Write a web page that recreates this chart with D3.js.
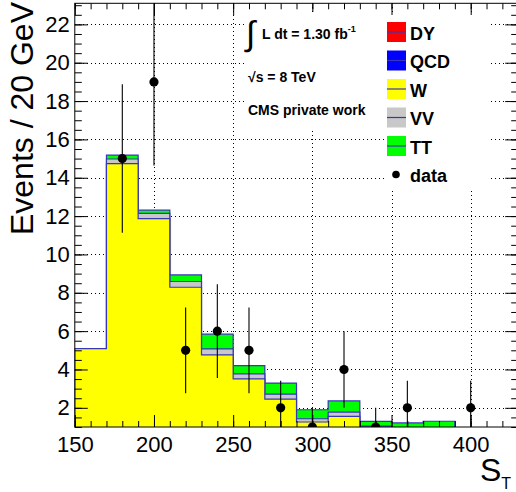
<!DOCTYPE html>
<html>
<head>
<meta charset="utf-8">
<script src="https://cdn.jsdelivr.net/npm/d3@7/dist/d3.min.js"></script>
<style>
  html, body { margin: 0; padding: 0; background: #fff; }
  svg { display: block; }
  text { font-family: "Liberation Sans", Arial, Helvetica, sans-serif; }
</style>
</head>
<body>
<svg id="chart" width="516" height="492"></svg>
<script>
// S_T distribution: stacked backgrounds in 20 GeV bins, plus observed data
const binEdges = [150, 170, 190, 210, 230, 250, 270, 290, 310, 330, 350, 370, 390];
const dyVals  = [0, 0, 0, 0, 0, 0, 0, 0, 0, 0, 0, 0];
const qcdVals = [0, 0, 0, 0, 0, 0, 0, 0, 0, 0, 0, 0];
const wVals   = [5.09, 14.74, 11.87, 8.29, 4.76, 3.51, 2.45, 1.26, 1.55, 0.95, 0.70, 0.60];
const vvVals  = [0.00, 0.24, 0.27, 0.30, 0.31, 0.26, 0.26, 0.17, 0.23, 0.10, 0.10, 0.05];
const ttVals  = [0.00, 0.20, 0.17, 0.34, 0.77, 0.43, 0.58, 0.47, 0.58, 0.24, 0.41, 0.65];

const dataX = [180, 200, 220, 240, 260, 280, 300, 320, 340, 360, 400];
const dataY = [15, 19, 5, 6, 5, 2, 1, 4, 1, 2, 2];

const processNames  = ["DY", "QCD", "W", "VV", "TT"];
const processColors = ["#ff0000", "#0000ff", "#ffff00", "#c8c8c8", "#00ff00"];

const xMajorTicks = [150, 200, 250, 300, 350, 400];
const yMajorTicks = [2, 4, 6, 8, 10, 12, 14, 16, 18, 20, 22];

const lineBlue = "#3636b8";
const svg = d3.select("#chart");

const frame = { left: 74.8, right: 518.2, top: 3.3, bottom: 427 };
const x = d3.scaleLinear().domain([150, 430]).range([frame.left, frame.right]);
const y = d3.scaleLinear().domain([1, 23.1]).range([frame.bottom, frame.top]);

svg.append("defs").append("clipPath").attr("id", "plotClip")
  .append("rect")
  .attr("x", frame.left).attr("y", frame.top)
  .attr("width", frame.right - frame.left).attr("height", frame.bottom - frame.top);

// Grid (dotted, behind the histograms)
const grid = svg.append("g").attr("stroke", "#000").attr("stroke-width", 1)
  .attr("stroke-dasharray", "1,3").attr("shape-rendering", "crispEdges");
grid.selectAll("line.gx").data(xMajorTicks.filter(v => v > 150)).join("line")
  .attr("x1", d => Math.round(x(d)) + 0.5).attr("x2", d => Math.round(x(d)) + 0.5)
  .attr("y1", frame.top).attr("y2", frame.bottom);
grid.selectAll("line.gy").data(yMajorTicks).join("line")
  .attr("y1", d => Math.round(y(d)) + 0.5).attr("y2", d => Math.round(y(d)) + 0.5)
  .attr("x1", frame.left).attr("x2", frame.right);

// Stacked histograms
const rows = binEdges.slice(0, -1).map((e, i) => ({
  DY: dyVals[i], QCD: qcdVals[i], W: wVals[i], VV: vvVals[i], TT: ttVals[i]
}));
const series = d3.stack().keys(processNames)(rows);
const stepLine = d3.line().x(d => x(d[0])).y(d => y(d[1])).curve(d3.curveStepAfter);
const nb = rows.length;

const hist = svg.append("g").attr("clip-path", "url(#plotClip)");
for (let k = series.length - 1; k >= 0; k--) {
  const tops = series[k].map(d => d[1]);
  const pts = [[binEdges[0], 0]];
  tops.forEach((v, i) => pts.push([binEdges[i], v]));
  pts.push([binEdges[nb], tops[nb - 1]]);
  pts.push([binEdges[nb], 0]);
  hist.append("path")
    .attr("d", stepLine(pts) + "Z")
    .attr("fill", processColors[k])
    .attr("stroke", lineBlue)
    .attr("stroke-width", 1.2);
}

// Data points with Poisson errors
const pts = dataX.map((v, i) => ({ x: v, y: dataY[i] }));
const dataG = svg.append("g").attr("clip-path", "url(#plotClip)");
dataG.selectAll("line").data(pts).join("line")
  .attr("x1", d => x(d.x)).attr("x2", d => x(d.x))
  .attr("y1", d => y(d.y - Math.sqrt(d.y))).attr("y2", d => y(d.y + Math.sqrt(d.y)))
  .attr("stroke", "#000").attr("stroke-width", 1.1);
dataG.selectAll("circle").data(pts).join("circle")
  .attr("cx", d => x(d.x)).attr("cy", d => y(d.y)).attr("r", 4.6)
  .attr("fill", "#000");

// Axes
const tickFont = 22;
const xMinor = d3.range(150, 431, 10);
const yMinor = d3.range(1, 23.1, 0.5);

function styleAxis(g) {
  g.select(".domain").remove();
  g.selectAll(".tick line").attr("stroke", "#000").attr("stroke-width", 1);
}

svg.append("g").attr("transform", `translate(0,${frame.bottom})`)
  .call(d3.axisBottom(x).tickValues(xMinor).tickSize(-6).tickFormat(""))
  .call(styleAxis);
svg.append("g").attr("transform", `translate(0,${frame.bottom})`)
  .call(d3.axisBottom(x).tickValues(xMajorTicks).tickSize(-12).tickPadding(9.5).tickFormat(d3.format("d")))
  .call(styleAxis)
  .call(g => g.selectAll(".tick text").attr("font-size", tickFont).attr("fill", "#000")
    .attr("font-family", "Liberation Sans, Arial, sans-serif"));

svg.append("g").attr("transform", `translate(0,${frame.top})`)
  .call(d3.axisTop(x).tickValues(xMinor).tickSize(-6).tickFormat(""))
  .call(styleAxis);
svg.append("g").attr("transform", `translate(0,${frame.top})`)
  .call(d3.axisTop(x).tickValues(xMajorTicks).tickSize(-12).tickFormat(""))
  .call(styleAxis);

svg.append("g").attr("transform", `translate(${frame.left},0)`)
  .call(d3.axisLeft(y).tickValues(yMinor).tickSize(-7).tickFormat(""))
  .call(styleAxis);
svg.append("g").attr("transform", `translate(${frame.left},0)`)
  .call(d3.axisLeft(y).tickValues(yMajorTicks).tickSize(-13).tickPadding(5).tickFormat(d3.format("d")))
  .call(styleAxis)
  .call(g => g.selectAll(".tick text").attr("font-size", tickFont).attr("fill", "#000")
    .attr("font-family", "Liberation Sans, Arial, sans-serif"));

svg.append("g").attr("transform", `translate(${frame.right},0)`)
  .call(d3.axisRight(y).tickValues(yMinor).tickSize(-7).tickFormat(""))
  .call(styleAxis);
svg.append("g").attr("transform", `translate(${frame.right},0)`)
  .call(d3.axisRight(y).tickValues(yMajorTicks).tickSize(-13).tickFormat(""))
  .call(styleAxis);

// Frame
svg.append("rect")
  .attr("x", frame.left).attr("y", frame.top)
  .attr("width", frame.right - frame.left).attr("height", frame.bottom - frame.top)
  .attr("fill", "none").attr("stroke", "#000").attr("stroke-width", 1);

// Axis titles
svg.append("text")
  .attr("transform", "translate(33,2) rotate(-90)")
  .attr("text-anchor", "end").attr("font-size", 32).attr("fill", "#000")
  .text("Events / 20 GeV");
const xt = svg.append("text").attr("x", 480).attr("y", 481).attr("font-size", 32).attr("fill", "#000");
xt.append("tspan").text("S");
xt.append("tspan").attr("font-size", 16).attr("dy", 8).text("T");

// Info box
svg.append("rect").attr("x", 244).attr("y", 12).attr("width", 140).attr("height", 116).attr("fill", "#fff");
svg.append("text").attr("x", 246).attr("y", 45).attr("font-size", 34)
  .attr("font-family", "DejaVu Sans, sans-serif").attr("fill", "#000").text("∫");
const lumi = svg.append("text").attr("x", 262).attr("y", 39).attr("font-size", 14)
  .attr("font-weight", "bold").attr("fill", "#000");
lumi.append("tspan").text("L dt = 1.30 fb");
lumi.append("tspan").attr("font-size", 9).attr("dy", -7).text("-1");
svg.append("text").attr("x", 248).attr("y", 82).attr("font-size", 14)
  .attr("font-weight", "bold").attr("fill", "#000").text("√s = 8 TeV");
svg.append("text").attr("x", 248).attr("y", 115).attr("font-size", 14)
  .attr("font-weight", "bold").attr("fill", "#000").text("CMS private work");

// Legend
const legend = svg.append("g");
legend.append("rect").attr("x", 384).attr("y", 15).attr("width", 107).attr("height", 173).attr("fill", "#fff");
const rowStep = 28.5;
processNames.forEach((name, i) => {
  const cy = 32 + i * rowStep;
  legend.append("rect").attr("x", 387).attr("y", cy - 10).attr("width", 19).attr("height", 20)
    .attr("fill", processColors[i]);
  legend.append("line").attr("x1", 387).attr("x2", 406).attr("y1", cy).attr("y2", cy)
    .attr("stroke", lineBlue).attr("stroke-width", 1.2);
  legend.append("text").attr("x", 410).attr("y", cy + 7.5).attr("font-size", 18)
    .attr("font-weight", "bold").attr("fill", "#000").text(name);
});
const dcy = 32 + 5 * rowStep;
legend.append("circle").attr("cx", 396).attr("cy", dcy).attr("r", 3.8).attr("fill", "#000");
legend.append("text").attr("x", 410).attr("y", dcy + 7.5).attr("font-size", 18)
  .attr("font-weight", "bold").attr("fill", "#000").text("data");
</script>
</body>
</html>
